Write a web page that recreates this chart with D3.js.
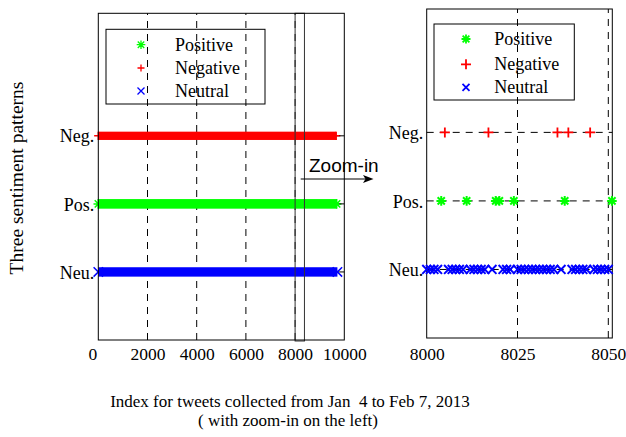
<!DOCTYPE html>
<html lang="en">
<head>
<meta charset="UTF-8">
<title>Three sentiment patterns</title>
<script src="https://d3js.org/d3.v7.min.js"></script>
<style>
  body { margin: 0; background: #fff; }
  svg text { font-family: "Liberation Serif", "Times New Roman", serif; fill: #000; }
  .frame { fill: none; stroke: #000; stroke-width: 1; }
  .grid { stroke: #000; stroke-width: 1; stroke-dasharray: 7,6; }
</style>
</head>
<body>
<svg id="chart" width="626" height="437"></svg>
<script>
  // Data
  const levelLabels = ["Neu.", "Pos.", "Neg."];   // y = 1, 2, 3
  const levelValues = [1, 2, 3];
  const legendLabels = ["Positive", "Negative", "Neutral"];
  const legendLevels = [2, 3, 1];

  const overviewTicks = [0, 2000, 4000, 6000, 8000, 10000];
  const overviewGrid = [2000, 4000, 6000, 8000];
  // each class covers the whole collection on the overview (first/last index)
  const overviewStart = [0, 0, 0];          // Neu, Pos, Neg
  const overviewEnd = [9720, 9690, 9670];
  const zoomWindow = [8000, 8380];

  const zoomTicks = [8000, 8025, 8050];
  const zoomGrid = [8025, 8050];
  const zoomPositive = [8004, 8011, 8019, 8020, 8024, 8038, 8051];
  const zoomNegative = [8005, 8017, 8036, 8039, 8045];
  const zoomNeutral = [8000, 8001, 8002, 8003, 8006, 8007, 8008, 8009, 8010, 8012,
    8013, 8014, 8015, 8016, 8018, 8021, 8022, 8023, 8025, 8026, 8027, 8028, 8029,
    8030, 8031, 8032, 8033, 8034, 8035, 8037, 8040, 8041, 8042, 8043, 8044, 8046,
    8047, 8048, 8049, 8050];

  const colors = { 1: "#0000ff", 2: "#00ff00", 3: "#ff0000" };

  const svg = d3.select("#chart");

  // marker drawing
  function marker(g, level, cx, cy, s, w) {
    const c = colors[level];
    const p = g.append("g").attr("transform", `translate(${cx},${cy})`)
      .attr("stroke", c).attr("stroke-width", w).attr("fill", "none");
    if (level === 3) {
      p.append("path").attr("d", `M${-s},0H${s}M0,${-s}V${s}`);
    } else if (level === 2) {
      const d = s * 0.75;
      p.append("path").attr("d", `M${-s},0H${s}M0,${-s}V${s}M${-d},${-d}L${d},${d}M${-d},${d}L${d},${-d}`);
    } else {
      p.append("path").attr("d", `M${-s},${-s}L${s},${s}M${-s},${s}L${s},${-s}`);
    }
  }

  function legend(g, box, rows, markX, textX, ms, mw) {
    g.append("rect").attr("class", "frame")
      .attr("x", box[0]).attr("y", box[1]).attr("width", box[2]).attr("height", box[3]);
    legendLabels.forEach((lab, i) => {
      marker(g, legendLevels[i], markX, rows[i], ms[legendLevels[i]], mw);
      g.append("text").attr("x", textX).attr("y", rows[i] + 6)
        .style("font-size", "18px").text(lab);
    });
  }

  // ---------- left panel (overview) ----------
  const xL = d3.scaleLinear().domain([0, 10000]).range([98.3, 344.3]);
  const yL = d3.scaleLinear().domain([0, 4.8]).range([340, 13.3]);
  const gL = svg.append("g");

  gL.selectAll(".vg").data(overviewGrid).enter().append("line").attr("class", "grid")
    .attr("x1", d => xL(d)).attr("x2", d => xL(d)).attr("y1", yL(0)).attr("y2", yL(4.8));
  gL.selectAll(".hg").data(levelValues).enter().append("line").attr("class", "grid")
    .attr("x1", xL(0)).attr("x2", xL(10000)).attr("y1", d => yL(d)).attr("y2", d => yL(d));

  const bandH = { 1: 9.4, 2: 9.6, 3: 8.3 };
  levelValues.forEach((lv, i) => {
    gL.append("rect")
      .attr("x", xL(overviewStart[i])).attr("width", xL(overviewEnd[i]) - xL(overviewStart[i]))
      .attr("y", yL(lv) - bandH[lv] / 2).attr("height", bandH[lv])
      .attr("fill", colors[lv]);
    [overviewStart[i], overviewEnd[i]].forEach(v => marker(gL, lv, xL(v), yL(lv), bandH[lv] / 2, 1.5));
  });

  // zoom window rectangle
  gL.append("rect").attr("fill", "none").attr("stroke", "#333").attr("stroke-width", 1)
    .attr("x", xL(zoomWindow[0])).attr("width", xL(zoomWindow[1]) - xL(zoomWindow[0]))
    .attr("y", yL(4.8)).attr("height", yL(0) - yL(4.8) + 1);

  gL.append("rect").attr("class", "frame")
    .attr("x", xL(0)).attr("y", yL(4.8)).attr("width", xL(10000) - xL(0)).attr("height", yL(0) - yL(4.8));

  // inner ticks on right side
  gL.selectAll(".rt").data(levelValues).enter().append("line").attr("stroke", "#000")
    .attr("x1", xL(10000) - 5).attr("x2", xL(10000)).attr("y1", d => yL(d)).attr("y2", d => yL(d));

  const axLx = d3.axisBottom(xL).tickValues(overviewTicks).tickSize(0).tickFormat(d3.format("d"));
  gL.append("g").attr("transform", `translate(0,${yL(0)})`).call(axLx)
    .call(g => g.select(".domain").remove())
    .call(g => g.selectAll("text").attr("dy", 0).attr("y", 20)
      .attr("dx", d => d === 0 ? -6 : 0)
      .style("font-size", "17.5px").style("font-family", "Liberation Serif"));

  const axLy = d3.axisLeft(yL).tickValues(levelValues).tickSize(0).tickFormat((d, i) => levelLabels[i]);
  gL.append("g").attr("transform", `translate(${xL(0)},0)`).call(axLy)
    .call(g => g.select(".domain").remove())
    .call(g => g.selectAll("text").attr("x", -4).attr("dy", "0.34em")
      .style("font-size", "18px").style("font-family", "Liberation Serif"));

  legend(gL, [106, 29.3, 159, 74.7], [44.7, 68, 91], 141, 175, { 1: 3.5, 2: 4.3, 3: 3.5 }, 1.3);

  // ---------- right panel (zoom-in) ----------
  const xR = d3.scaleLinear().domain([8000, 8051.1]).range([426.7, 612.3]);
  const yR = d3.scaleLinear().domain([0, 4.8]).range([338, 9]);
  const gR = svg.append("g");

  gR.selectAll(".vg").data(zoomGrid).enter().append("line").attr("class", "grid")
    .attr("x1", d => xR(d)).attr("x2", d => xR(d)).attr("y1", yR(0)).attr("y2", yR(4.8));
  gR.selectAll(".hg").data(levelValues).enter().append("line").attr("class", "grid")
    .attr("x1", xR(8000)).attr("x2", xR(8051.1)).attr("y1", d => yR(d)).attr("y2", d => yR(d));

  gR.append("rect").attr("class", "frame")
    .attr("x", xR(8000)).attr("y", yR(4.8)).attr("width", xR(8051.1) - xR(8000)).attr("height", yR(0) - yR(4.8));

  zoomNeutral.forEach(v => marker(gR, 1, xR(v), yR(1), 4.4, 2));
  zoomPositive.forEach(v => marker(gR, 2, xR(v), yR(2), 4.8, 2));
  zoomNegative.forEach(v => marker(gR, 3, xR(v), yR(3), 5, 1.8));

  const axRx = d3.axisBottom(xR).tickValues(zoomTicks).tickSize(0).tickFormat(d3.format("d"));
  gR.append("g").attr("transform", `translate(0,${yR(0)})`).call(axRx)
    .call(g => g.select(".domain").remove())
    .call(g => g.selectAll("text").attr("dy", 0).attr("y", 22)
      .style("font-size", "17.5px").style("font-family", "Liberation Serif"));

  const axRy = d3.axisLeft(yR).tickValues(levelValues).tickSize(0).tickFormat((d, i) => levelLabels[i]);
  gR.append("g").attr("transform", `translate(${xR(8000)},0)`).call(axRy)
    .call(g => g.select(".domain").remove())
    .call(g => g.selectAll("text").attr("x", -3.5).attr("dy", "0.34em")
      .style("font-size", "18px").style("font-family", "Liberation Serif"));

  legend(gR, [434, 24, 140.3, 76], [39, 64.3, 87.3], 466, 494.3, { 1: 3.5, 2: 4.5, 3: 5 }, 1.8);

  // ---------- zoom-in arrow ----------
  svg.append("line").attr("x1", 300.7).attr("x2", 366).attr("y1", 179).attr("y2", 179)
    .attr("stroke", "#000").attr("stroke-width", 1.2);
  svg.append("path").attr("d", "M373.5,179L363,175L365.5,179L363,183Z").attr("fill", "#000");
  svg.append("text").attr("x", 309).attr("y", 172)
    .style("font-family", "Liberation Sans, Arial, sans-serif").style("font-size", "19px")
    .text("Zoom-in");

  // ---------- titles ----------
  svg.append("text").attr("transform", "translate(23,178) rotate(-90)")
    .attr("text-anchor", "middle").style("font-size", "19.5px")
    .text("Three sentiment patterns");
  svg.append("text").attr("x", 290).attr("y", 407).attr("text-anchor", "middle")
    .style("font-size", "17px").style("white-space", "pre")
    .text("Index for tweets collected from Jan  4 to Feb 7, 2013");
  svg.append("text").attr("x", 288).attr("y", 425.5).attr("text-anchor", "middle")
    .style("font-size", "17px").text("( with zoom-in on the left)");
</script>
</body>
</html>
